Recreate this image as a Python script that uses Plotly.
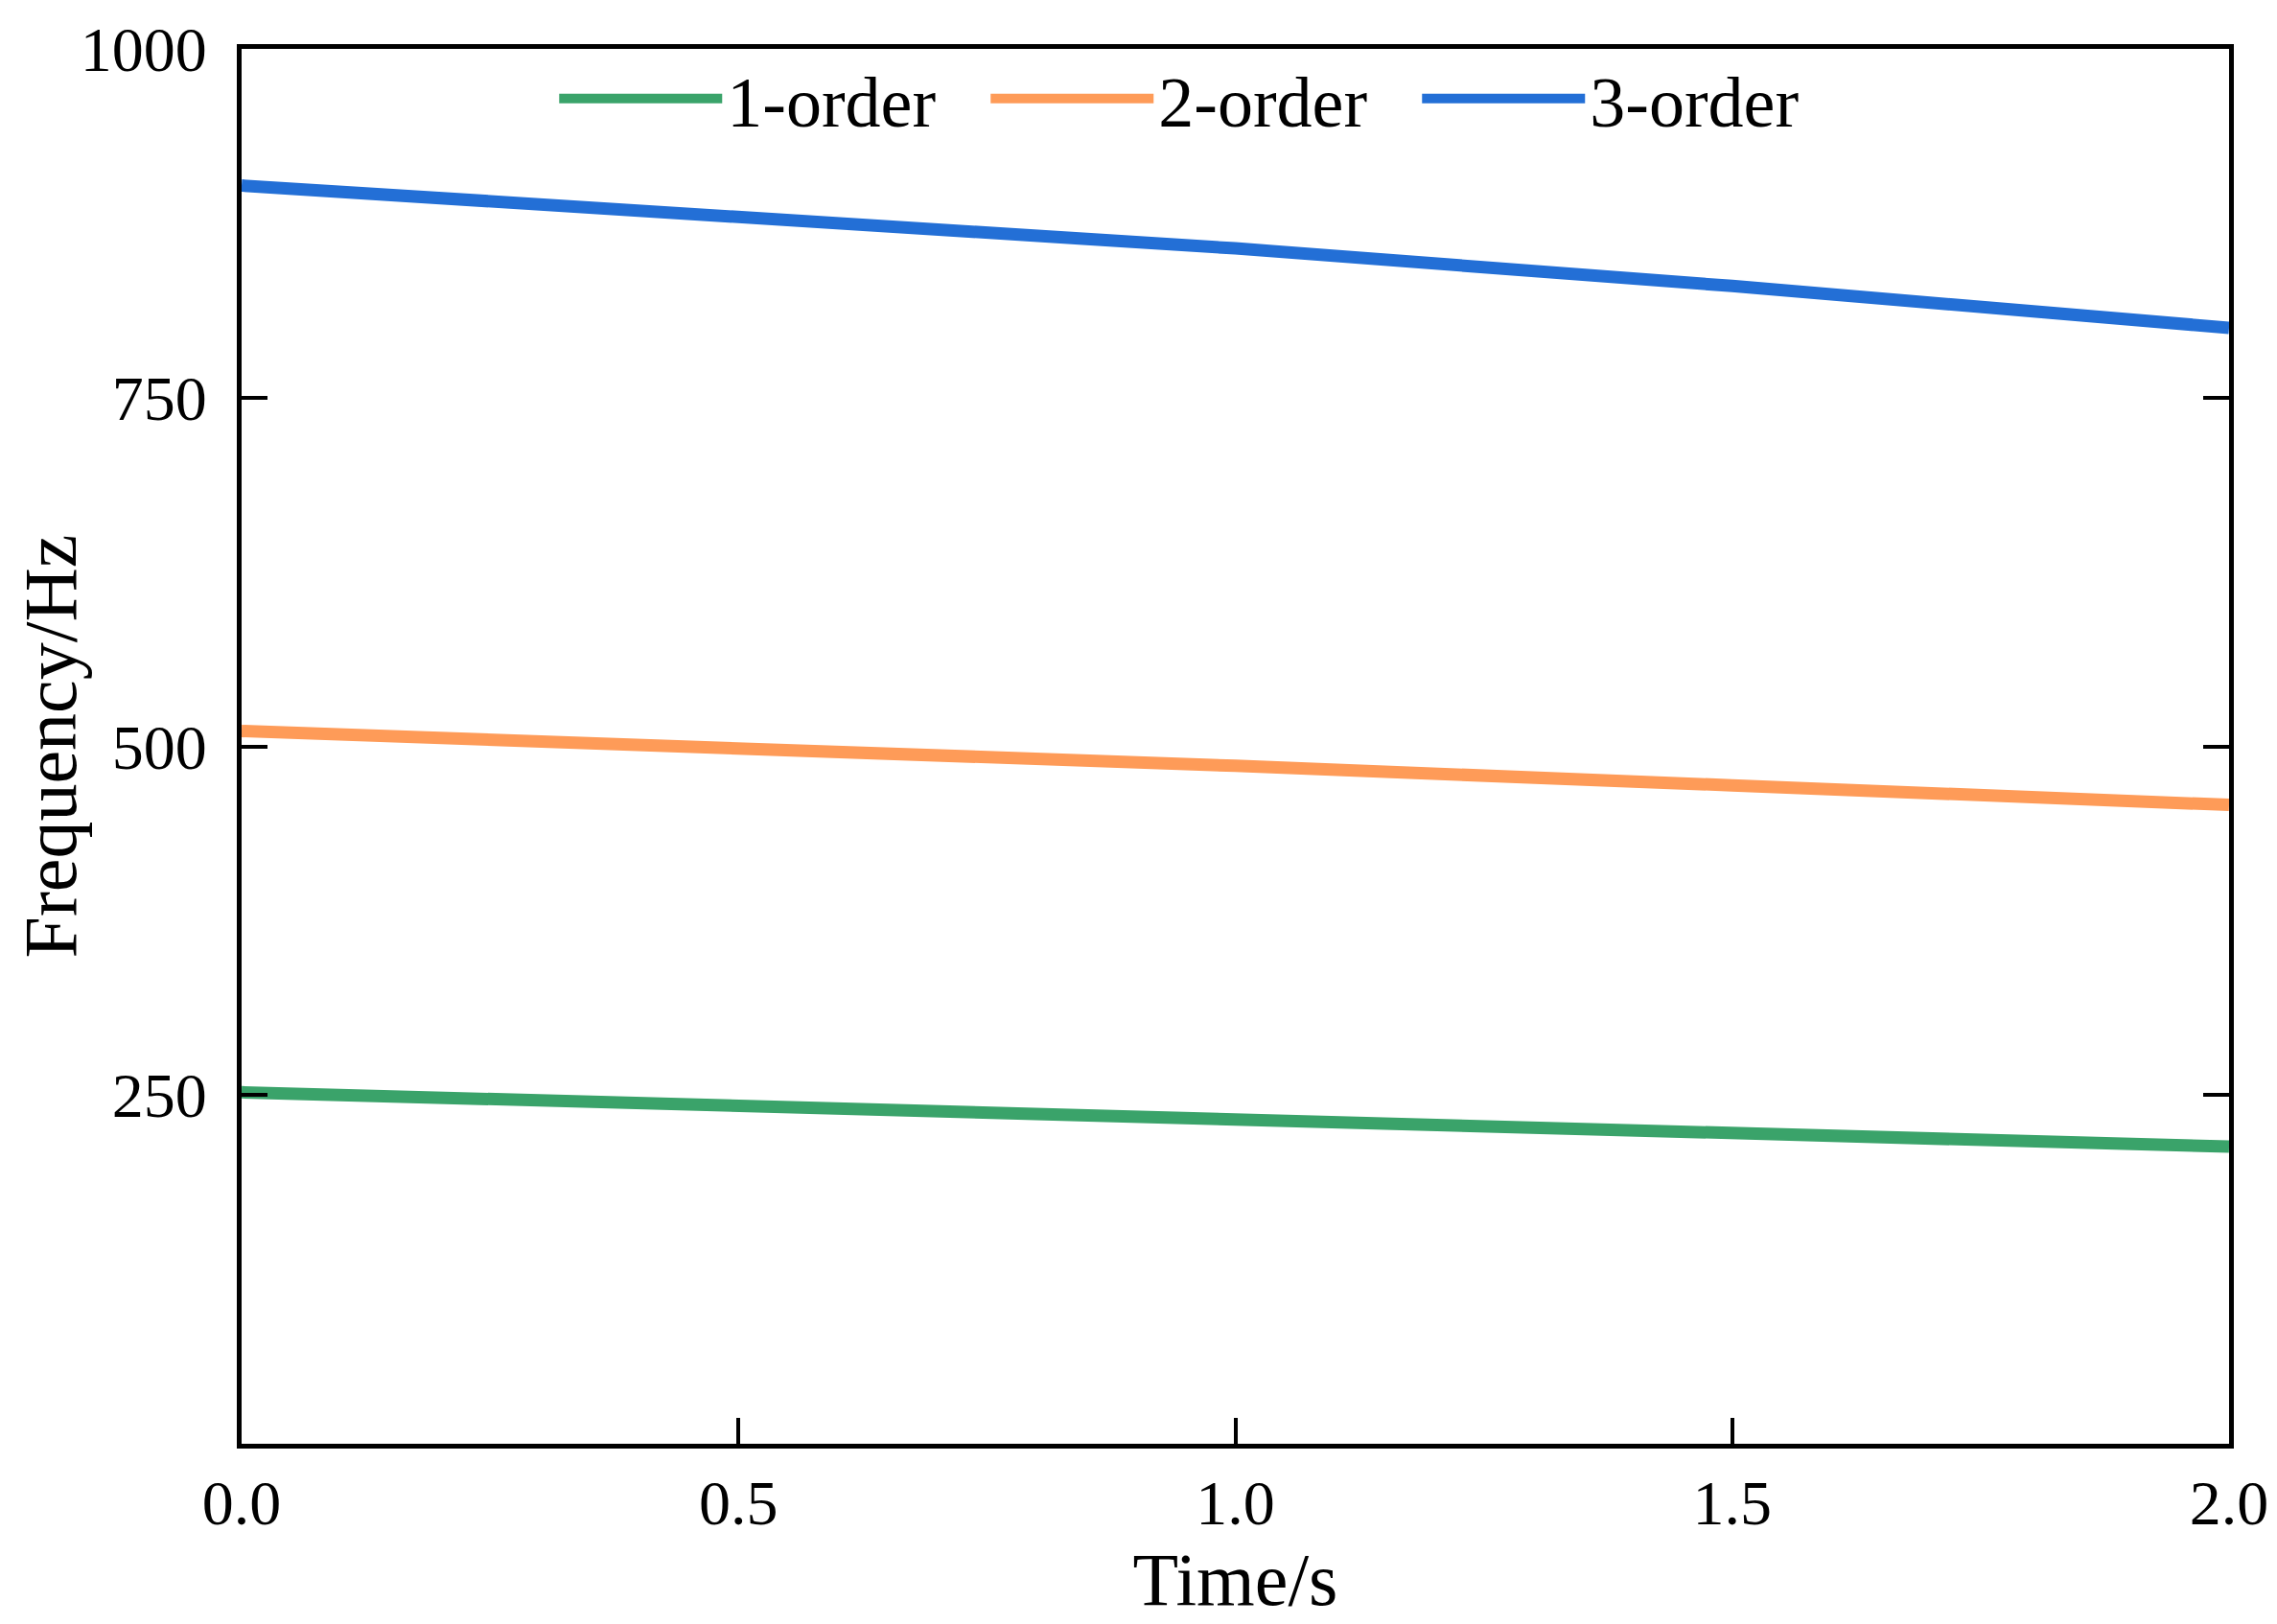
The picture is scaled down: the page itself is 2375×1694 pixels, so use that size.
import plotly.graph_objects as go

time_s = [0.0, 0.5, 1.0, 1.5, 2.0]
order1 = [252, 242, 233, 223, 213]
order2 = [511, 499, 486, 472, 458]
order3 = [902, 879, 857, 830, 800]

series_names = ["1-order", "2-order", "3-order"]
series_values = [order1, order2, order3]
series_colors = ["#3aa36a", "#fe9b58", "#236fd6"]

x_ticks = [0.0, 0.5, 1.0, 1.5, 2.0]
y_ticks = [250, 500, 750, 1000]

FONT = "Liberation Serif"

fig = go.Figure()
for name, vals, col in zip(series_names, series_values, series_colors):
    fig.add_trace(go.Scatter(x=time_s, y=vals, mode="lines", name=name,
                             line=dict(color=col, width=13)))

axis_common = dict(showgrid=False, zeroline=False, showline=True,
                   linecolor="black", linewidth=5, ticks="inside",
                   ticklen=27, tickwidth=4, tickcolor="black", automargin=False,
                   tickfont=dict(family=FONT, size=66, color="black"))

fig.update_xaxes(range=[0, 2], tickvals=x_ticks,
                 ticktext=[f"{v:.1f}" for v in x_ticks], mirror=True,
                 title=dict(text="Time/s", font=dict(family=FONT, size=78, color="black"),
                            standoff=14),
                 **axis_common)
fig.update_yaxes(range=[0, 1000], tickvals=y_ticks,
                 ticktext=[str(v) for v in y_ticks], mirror="ticks",
                 ticklabelstandoff=18,
                 **axis_common)

fig.add_annotation(text="Frequency/Hz", xref="paper", yref="paper",
                   x=-0.096, y=0.5, xanchor="center", yanchor="middle",
                   textangle=-90, showarrow=False,
                   font=dict(family=FONT, size=78, color="black"))

fig.update_layout(
    width=2375, height=1694,
    margin=dict(l=244, r=58, t=43, b=196),
    plot_bgcolor="white", paper_bgcolor="white",
    font=dict(family=FONT, color="black"),
    legend=dict(orientation="h", x=0.483, xanchor="center", y=1.002, yanchor="top",
                font=dict(family=FONT, size=74, color="black"),
                bgcolor="rgba(0,0,0,0)", itemwidth=170, tracegroupgap=0,
                entrywidth=265, entrywidthmode="pixels"),
)

fig.write_html("out.html")
